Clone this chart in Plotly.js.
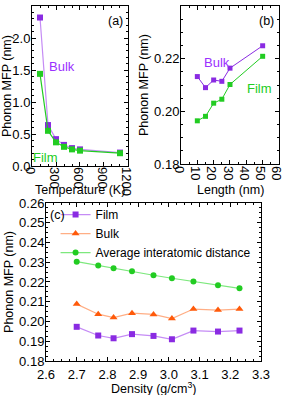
<!DOCTYPE html>
<html><head><meta charset="utf-8">
<script src="https://cdn.plot.ly/plotly-3.0.1.min.js"></script>
<style>html,body{margin:0;padding:0;background:#fff}#c{width:285px;height:395px}</style>
</head><body><div id="c"></div>
<script>
// Panel (a): temperature dependence
const temperature = [100, 200, 300, 400, 500, 600, 1100];
const bulkTemp = [2.32, 0.64, 0.42, 0.33, 0.28, 0.26, 0.21];
const filmTemp = [1.44, 0.55, 0.37, 0.30, 0.26, 0.24, 0.20];
// Panel (b): length dependence
const lengthNm = [10, 15, 20, 25, 30, 50];
const bulkLen = [0.2132, 0.2090, 0.2119, 0.2114, 0.2164, 0.2249];
const filmLen = [0.1964, 0.1981, 0.2031, 0.2046, 0.2102, 0.2209];
// Panel (c): density dependence
const density = [2.70, 2.77, 2.82, 2.88, 2.95, 3.01, 3.08, 3.16, 3.23];
const filmDen = [0.1973, 0.1929, 0.1915, 0.1936, 0.1927, 0.1910, 0.1954, 0.1949, 0.1954];
const bulkDen = [0.2088, 0.2037, 0.2020, 0.2042, 0.2036, 0.2015, 0.2063, 0.2058, 0.2063];
const avgDist = [0.2303, 0.2283, 0.2270, 0.2255, 0.2234, 0.2219, 0.2203, 0.2183, 0.2168];

const PURPLE = '#8a2be2', PURPLE_L = '#c58cf5';
const GREEN = '#22cc22', GREEN_L = '#7de87d';
const ORANGE = '#ff5a0a', ORANGE_L = '#ffae85';
const FONT = 'Liberation Sans, Arial, sans-serif';

const traces = [
  {x: temperature, y: bulkTemp, xaxis:'x', yaxis:'y', mode:'lines+markers', showlegend:false,
   line:{color:PURPLE_L, width:1.2}, marker:{symbol:'square', size:6, color:PURPLE}},
  {x: temperature, y: filmTemp, xaxis:'x', yaxis:'y', mode:'lines+markers', showlegend:false,
   line:{color:GREEN, width:1.2}, marker:{symbol:'square', size:6, color:GREEN}},
  {x: lengthNm, y: bulkLen, xaxis:'x2', yaxis:'y2', mode:'lines+markers', showlegend:false,
   line:{color:PURPLE, width:1}, marker:{symbol:'square', size:5, color:PURPLE}},
  {x: lengthNm, y: filmLen, xaxis:'x2', yaxis:'y2', mode:'lines+markers', showlegend:false,
   line:{color:GREEN, width:1}, marker:{symbol:'square', size:5, color:GREEN}},
  {x: density, y: filmDen, xaxis:'x3', yaxis:'y3', mode:'lines+markers', name:'Film',
   line:{color:PURPLE_L, width:1.2}, marker:{symbol:'square', size:6, color:PURPLE}},
  {x: density, y: bulkDen, xaxis:'x3', yaxis:'y3', mode:'lines+markers', name:'Bulk',
   line:{color:ORANGE_L, width:1.2}, marker:{symbol:'triangle-up', size:7, color:ORANGE}},
  {x: density, y: avgDist, xaxis:'x3', yaxis:'y3', mode:'lines+markers', name:'Average interatomic distance',
   line:{color:GREEN_L, width:1.2}, marker:{symbol:'circle', size:6, color:GREEN}}
];

function ax(extra){
  return Object.assign({
    showline:true, linecolor:'#000', linewidth:1, mirror:'allticks',
    ticks:'inside', ticklen:4, tickcolor:'#000', showgrid:false, zeroline:false,
    tickfont:{family:FONT, size:13, color:'#000'},
    fixedrange:true
  }, extra);
}
function minor(d){ return {ticks:'inside', ticklen:2, tickcolor:'#000', dtick:d, showgrid:false}; }
function ttl(t, s){ return {text:t, standoff:s, font:{family:FONT, size:12.5, color:'#000'}}; }
function xtitle(t, xc, yc){
  return {xref:'paper', yref:'paper', x:xc/285, y:1-yc/395, xanchor:'center', yanchor:'middle',
    text:t, showarrow:false, font:{family:FONT, size:12.5, color:'#000'}};
}

const layout = {
  width:285, height:395, margin:{l:0,r:0,t:0,b:0},
  paper_bgcolor:'#fff', plot_bgcolor:'#fff', font:{family:FONT, color:'#000'},
  xaxis: ax({domain:[0.1123,0.4491], anchor:'y', range:[0,1200], tickvals:[0,300,600,900,1200],
    minor:minor(100), ticklabelstandoff:-9}),
  yaxis: ax({domain:[0.5797,0.9848], anchor:'x', range:[0,2.5], dtick:0.5, tickformat:'.1f',
    minor:minor(0.1), ticklabelstandoff:-2, title:ttl('Phonon MFP (nm)', 2)}),
  xaxis2: ax({domain:[0.6351,0.9789], anchor:'y2', range:[0,60], dtick:10,
    minor:minor(5), ticklabelstandoff:-8}),
  yaxis2: ax({domain:[0.5848,0.9848], anchor:'x2', range:[0.18,0.24], dtick:0.02, tickformat:'.2f',
    minor:minor(0.005), ticklabelstandoff:-2, title:ttl('Phonon MFP (nm)', 2)}),
  xaxis3: ax({domain:[0.1614,0.9158], anchor:'y3', range:[2.6,3.3], dtick:0.1, tickformat:'.1f',
    minor:minor(0.025), ticklabelstandoff:1}),
  yaxis3: ax({domain:[0.0861,0.4861], anchor:'x3', range:[0.18,0.26], dtick:0.01, tickformat:'.2f',
    minor:minor(0.0025), ticklabelstandoff:-2, title:ttl('Phonon MFP (nm)', 2)}),
  legend:{x:0.195, y:0.4936, xanchor:'left', yanchor:'top', bgcolor:'rgba(0,0,0,0)',
    font:{family:FONT, size:12, color:'#000'}, tracegroupgap:0, itemwidth:30},
  annotations:[
    xtitle('Temperature (K)', 80, 190),
    xtitle('Length (nm)', 230, 190),
    xtitle('Density (g/cm<sup>3</sup>)', 153, 388),
    {xref:'paper', yref:'paper', x:0.44, y:0.97, xanchor:'right', yanchor:'top', text:'(a)', showarrow:false, font:{family:FONT,size:12.5,color:'#000'}},
    {xref:'paper', yref:'paper', x:0.97, y:0.97, xanchor:'right', yanchor:'top', text:'(b)', showarrow:false, font:{family:FONT,size:12.5,color:'#000'}},
    {xref:'paper', yref:'paper', x:0.168, y:0.4557, xanchor:'left', yanchor:'middle', text:'(c)', showarrow:false, font:{family:FONT,size:12.5,color:'#000'}},
    {xref:'x', yref:'y', x:380, y:1.55, text:'Bulk', showarrow:false, font:{family:FONT,size:13,color:'#9b30ff'}},
    {xref:'x', yref:'y', x:165, y:0.13, text:'Film', showarrow:false, font:{family:FONT,size:13,color:GREEN}},
    {xref:'x2', yref:'y2', x:22, y:0.2185, text:'Bulk', showarrow:false, font:{family:FONT,size:13,color:'#9b30ff'}},
    {xref:'x2', yref:'y2', x:48, y:0.2085, text:'Film', showarrow:false, font:{family:FONT,size:13,color:GREEN}}
  ]
};
Plotly.newPlot('c', traces, layout, {displayModeBar:false, staticPlot:true});
</script></body></html>
